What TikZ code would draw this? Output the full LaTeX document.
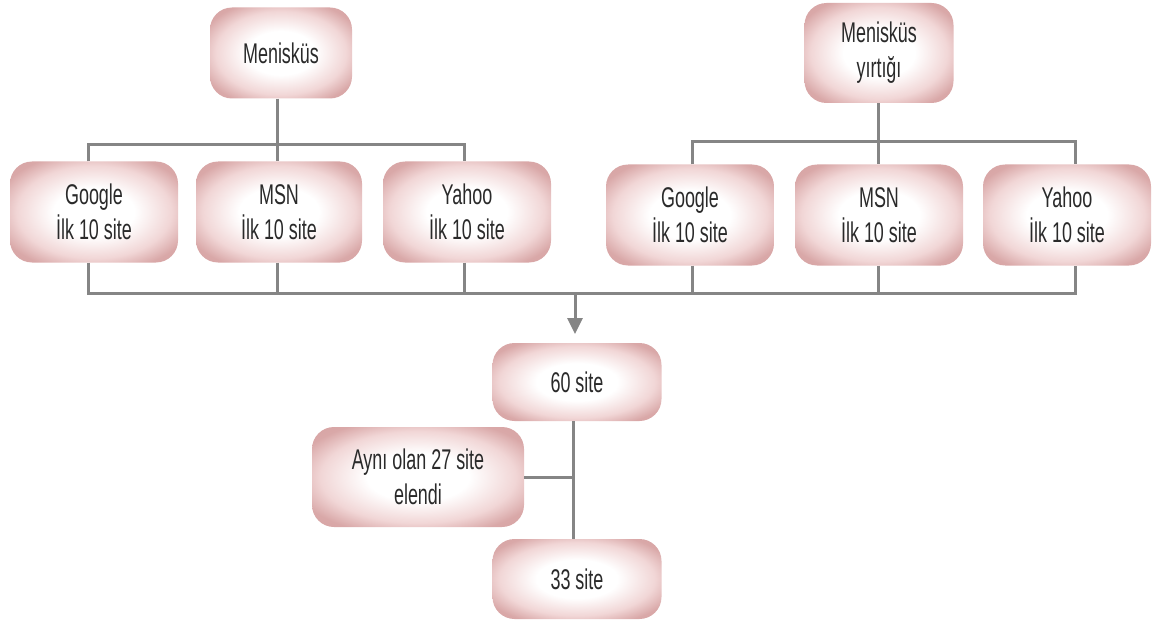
\documentclass[tikz,border=0pt]{standalone}
\usepackage{fontspec}
\usetikzlibrary{arrows.meta}
\newfontfamily\condfont{Liberation Sans}[FakeStretch=0.63]
\definecolor{pinkedge}{HTML}{D9A8A8}
\definecolor{pinkcorner}{HTML}{D09898}
\definecolor{pinkmid}{HTML}{F1D6D6}
\definecolor{linegray}{HTML}{858585}
\definecolor{txt}{HTML}{2A2A2A}
\pgfdeclareradialshading{boxshade}{\pgfpoint{0bp}{0bp}}{color(0bp)=(white); color(12bp)=(white); color(23bp)=(pinkmid); color(30bp)=(pinkedge); color(50bp)=(pinkcorner)}
\begin{document}
\begin{tikzpicture}[x=1pt,y=-1pt,
  box/.style={rounded corners=22pt, shading=boxshade, inner sep=0pt, align=center,
    text=txt, font=\condfont\fontsize{28.5}{35}\selectfont},
  wire/.style={draw=linegray, line width=3pt}]
\useasboundingbox (0,0) rectangle (1154,623);
% top roots
\node[box, minimum width=142pt, minimum height=91pt] (m) at (281,53) {Menisküs};
\node[box, minimum width=149pt, minimum height=100pt] (my) at (879,53) {Menisküs\\yırtığı};
% left row
\node[box, minimum width=168pt, minimum height=101pt] (lg) at (94,212) {Google\\İlk 10 site};
\node[box, minimum width=166pt, minimum height=101pt] (lm) at (279,212) {MSN\\İlk 10 site};
\node[box, minimum width=168pt, minimum height=101pt] (ly) at (467,212) {Yahoo\\İlk 10 site};
% right row
\node[box, minimum width=168pt, minimum height=101pt] (rg) at (690,215) {Google\\İlk 10 site};
\node[box, minimum width=168pt, minimum height=101pt] (rm) at (879,215) {MSN\\İlk 10 site};
\node[box, minimum width=168pt, minimum height=101pt] (ry) at (1067,215) {Yahoo\\İlk 10 site};
% bottom
\node[box, minimum width=169pt, minimum height=78pt] (s60) at (577,382) {60 site};
\node[box, minimum width=212pt, minimum height=100pt] (ay) at (418,477) {Aynı olan 27 site\\elendi};
\node[box, minimum width=169pt, minimum height=80pt] (s33) at (577,579) {33 site};
% coordinates
\coordinate (lbar) at (277,145);
\coordinate (rbar) at (878,142);
\coordinate (jn) at (575,293);
\coordinate (vj) at (573,478);
% left tree
\draw[wire] (m.south -| lbar) -- (lbar);
\draw[wire] (lg.north -| 88,0) |- (lbar) -| (ly.north -| 464,0);
\draw[wire] (lbar) -- (lm.north -| lbar);
% right tree
\draw[wire] (my.south -| rbar) -- (rbar);
\draw[wire] (rg.north -| 692,0) |- (rbar) -| (ry.north -| 1075,0);
\draw[wire] (rbar) -- (rm.north -| rbar);
% collect bar
\draw[wire] (lg.south -| 88,0) |- (jn) -| (ry.south -| 1075,0);
\draw[wire] (lm.south -| 277,0) -- (277,293);
\draw[wire] (ly.south -| 464,0) -- (464,293);
\draw[wire] (rg.south -| 692,0) -- (692,293);
\draw[wire] (rm.south -| 878,0) -- (878,293);
\draw[wire, -{Triangle[length=16pt,width=15pt]}] (jn) -- (575,334);
% bottom chain
\draw[wire] (s60.south -| vj) -- (s33.north -| vj);
\draw[wire] (ay.east) -- (ay.east -| vj);
\end{tikzpicture}
\end{document}
